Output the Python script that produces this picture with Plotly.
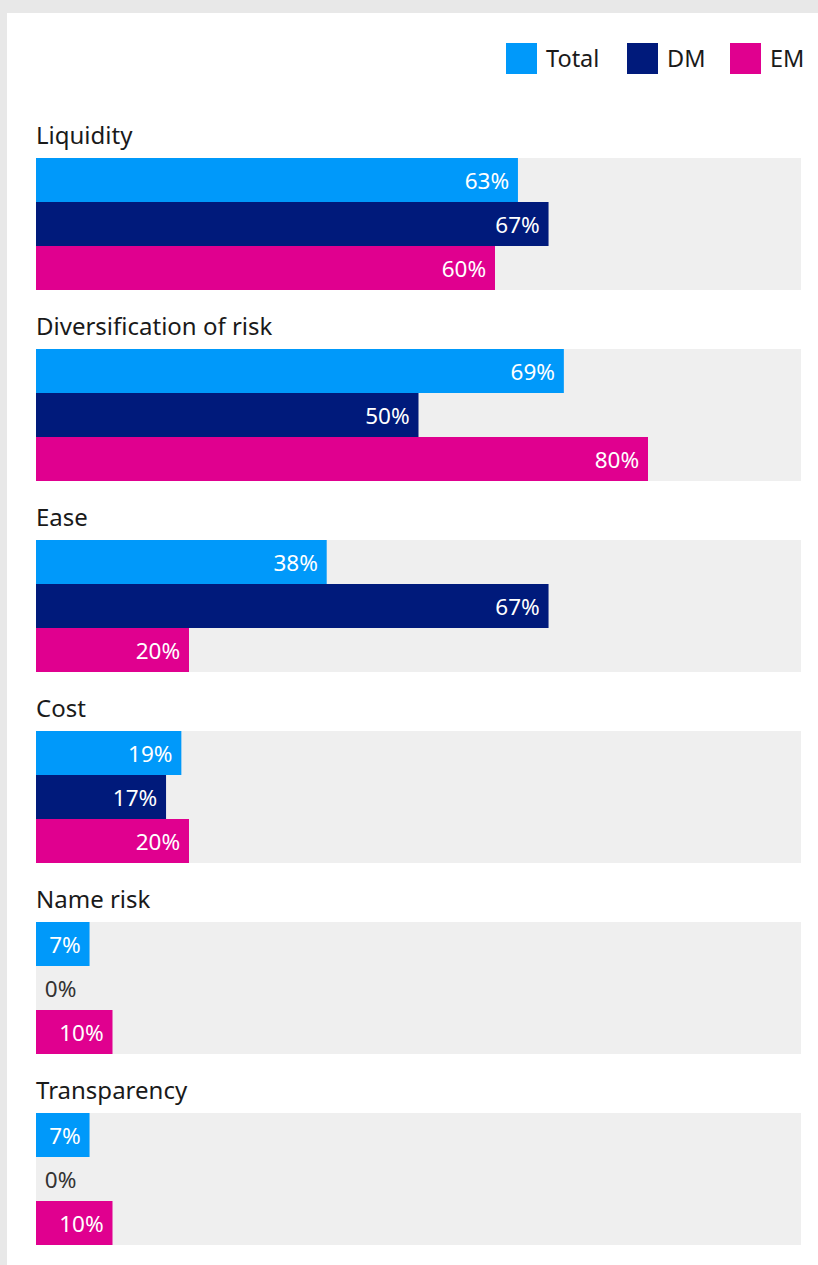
import plotly.graph_objects as go

# data
categories = ["Liquidity", "Diversification of risk", "Ease", "Cost", "Name risk", "Transparency"]
series_names = ["Total", "DM", "EM"]
total_vals = [63, 69, 38, 19, 7, 7]
dm_vals = [67, 50, 67, 17, 0, 0]
em_vals = [60, 80, 20, 20, 10, 10]

COLORS = {"Total": "#0099FA", "DM": "#001A7B", "EM": "#E0008F"}
TRACK = "#EFEFEF"
FONT = "Noto Sans"

# layout in pixels (y axis runs in page pixels, top-down)
W, H = 818, 1265
LEFT, RIGHT = 36, 801          # 0% .. 100%
PX_PER_PCT = (RIGHT - LEFT) / 100
FIRST_TOP = 158
PITCH = 191
BAR_H = 44


def px_to_x(px):
    return (px - LEFT) / PX_PER_PCT


fig = go.Figure()

group_tops = [FIRST_TOP + PITCH * i for i in range(len(categories))]

# grey track behind each group
fig.add_trace(go.Bar(
    x=[100] * len(categories),
    y=[t + 1.5 * BAR_H for t in group_tops],
    width=3 * BAR_H,
    orientation="h",
    marker=dict(color=TRACK, line_width=0),
    hoverinfo="skip",
    showlegend=False,
))

for j, (name, vals) in enumerate(zip(series_names, [total_vals, dm_vals, em_vals])):
    fig.add_trace(go.Bar(
        name=name,
        x=vals,
        y=[t + BAR_H * j + BAR_H / 2 for t in group_tops],
        width=BAR_H,
        orientation="h",
        marker=dict(color=COLORS[name], line_width=0),
        text=[f"{v}%" for v in vals],
        texttemplate=["%{text}\u00a0" if v > 0 else "\u00a0%{text}" for v in vals],
        textposition=["inside" if v > 0 else "outside" for v in vals],
        insidetextanchor="end",
        textangle=0,
        constraintext="none",
        textfont=dict(family=FONT, size=22.5, color=["white" if v > 0 else "#333333" for v in vals]),
        cliponaxis=False,
        showlegend=False,
    ))

# category labels
for cat, top in zip(categories, group_tops):
    fig.add_annotation(
        x=px_to_x(34), y=top - 24, text=cat, xref="x", yref="y",
        xanchor="left", yanchor="middle", showarrow=False,
        font=dict(family=FONT, size=24, color="#1a1a1a"),
    )

# custom legend with large swatches
legend_left = [506, 627, 730]
for name, lx in zip(series_names, legend_left):
    fig.add_shape(
        type="rect", xref="x", yref="y",
        x0=px_to_x(lx), x1=px_to_x(lx + 31), y0=43, y1=74,
        fillcolor=COLORS[name], line_width=0,
    )
    fig.add_annotation(
        x=px_to_x(lx + 38), y=58, text=name, xref="x", yref="y",
        xanchor="left", yanchor="middle", showarrow=False,
        font=dict(family=FONT, size=23.5, color="#1a1a1a"),
    )

fig.update_layout(
    width=W, height=H, autosize=False,
    barmode="overlay",
    margin=dict(l=7, r=0, t=13, b=0, pad=0),
    paper_bgcolor="#E8E8E8",
    plot_bgcolor="white",
    showlegend=False,
    xaxis=dict(range=[px_to_x(7), px_to_x(W)], visible=False, fixedrange=True),
    yaxis=dict(range=[H, 13], visible=False, fixedrange=True),
)

fig.write_html(
    "out.html",
    config={"displayModeBar": False},
    post_script="document.body.style.margin='0';",
)
